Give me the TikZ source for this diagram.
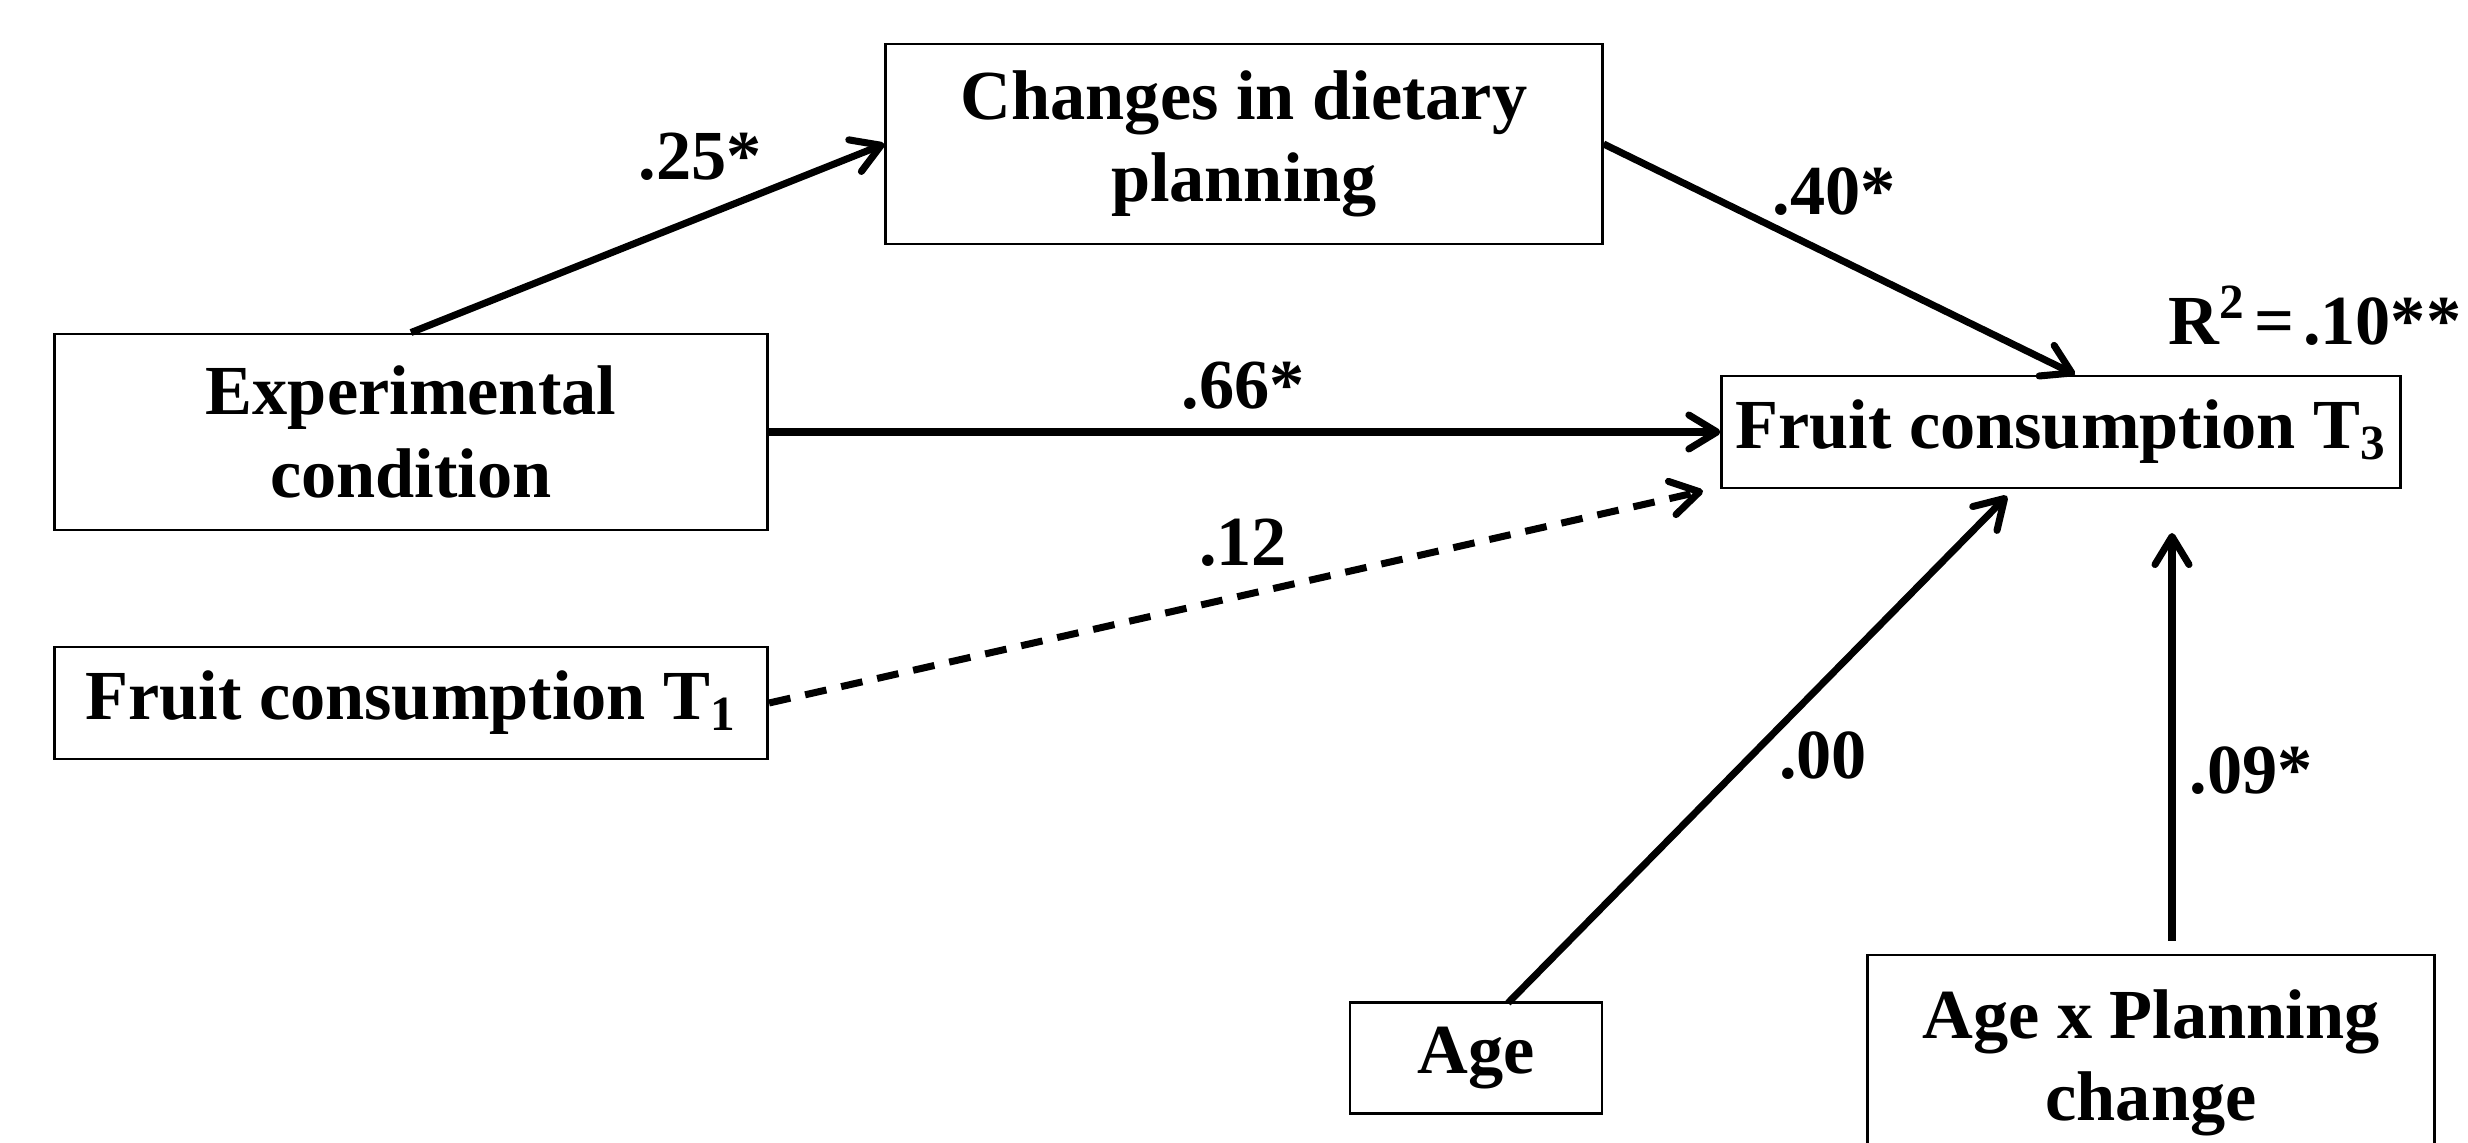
\documentclass[tikz,border=0pt]{standalone}
\usepackage{fontspec}
\setmainfont{Liberation Serif}
\usepackage{tikz}
\usetikzlibrary{arrows.meta}

\begin{document}
\begin{tikzpicture}[x=0.01cm, y=-0.01cm,
    box/.style={draw, line width=0.8pt, align=center, inner sep=0pt,
                font=\fontsize{20}{23.5}\selectfont\bfseries},
    coef/.style={inner sep=0pt, font=\fontsize{20}{23.5}\selectfont\bfseries},
    path/.style={line width=2pt, -{Straight Barb[length=2.8mm, width=3.4mm, round]}}]
    \useasboundingbox (0,0) rectangle (2468,1143);

    % Boxes
    \node[box, minimum width=7.16cm, minimum height=2.00cm] (plan) at (1244,144) {Changes in dietary\\planning};
    \node[box, minimum width=7.13cm, minimum height=1.96cm] (expc) at (411,432) {Experimental\\condition};
    \node[box, minimum width=7.13cm, minimum height=1.12cm] (ft1) at (411,703) {Fruit consumption T\textsubscript{1}};
    \node[box, minimum width=6.78cm, minimum height=1.12cm] (ft3) at (2061,432) {Fruit consumption T\textsubscript{3}};
    \node[box, minimum width=2.52cm, minimum height=1.11cm] (age) at (1476,1058) {Age};
    \node[box, minimum width=5.67cm, minimum height=2.16cm] (axp) at (2151,1063) {Age x Planning\\change};

    % Free ends
    \coordinate (t1end) at (1703,491);
    \coordinate (agestart) at (1508,1003);
    \coordinate (ageend) at (2007,496);
    \coordinate (axpstart) at (2172,941);
    \coordinate (axpend) at (2172,533);

    % Paths
    \draw[path] (expc.north) -- (plan.west);
    \draw[path] (plan.east) -- ([xshift=0.14cm]ft3.north);
    \draw[path] (expc.east) -- (ft3.west);
    \draw[path, dash pattern=on 6.2pt off 4.3pt] (ft1.east) -- (t1end);
    \draw[path] (agestart) -- (ageend);
    \draw[path] (axpstart) -- (axpend);

    % Coefficients
    \node[coef] (c25) at (700,157) {.25*};
    \node[coef] (c40) at (1834,192) {.40*};
    \node[coef] (c66) at (1243,386) {.66*};
    \node[coef] (c12) at (1243,543) {.12};
    \node[coef] (c00) at (1823,756) {.00};
    \node[coef] (c09) at (2251,771) {.09*};
    \node[coef, anchor=base east] (rsq) at (2462,345) {R\textsuperscript{2}\hspace{0.12em}=\hspace{0.12em}.10**};
\end{tikzpicture}
\end{document}
